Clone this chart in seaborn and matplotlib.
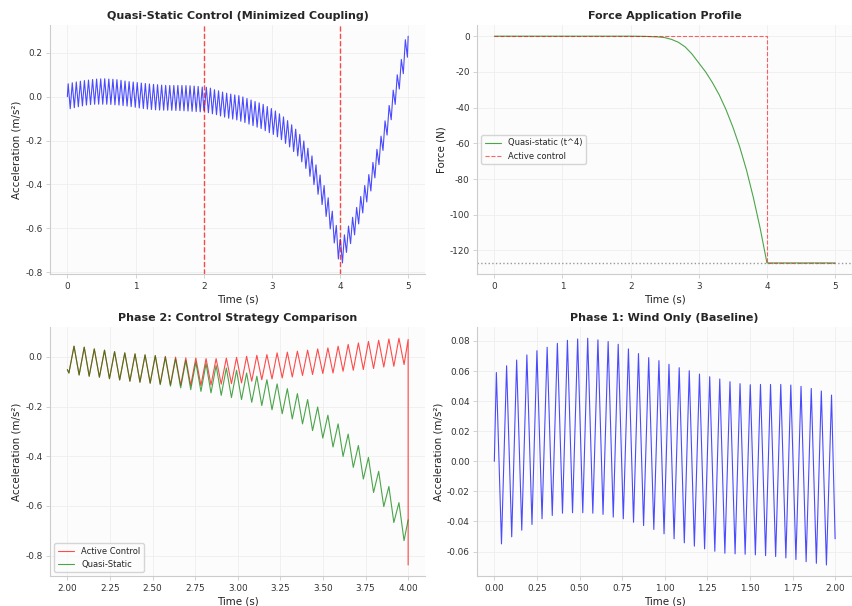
import numpy as np
import pandas as pd
import matplotlib
matplotlib.use("Agg")
import matplotlib.pyplot as plt
import seaborn as sns

# =========================
# DATA (peaks / troughs)
# =========================
# Phase 1: wind only, 0-2 s
wind_start = (0.0, 0.0)
wind_end = (2.0, -0.0515)
wind_peak_t = [0.012, 0.072, 0.131, 0.191, 0.250, 0.310, 0.370, 0.429, 0.489, 0.548,
               0.608, 0.668, 0.727, 0.787, 0.846, 0.906, 0.966, 1.025, 1.085, 1.144,
               1.204, 1.264, 1.323, 1.383, 1.442, 1.502, 1.562, 1.621, 1.681, 1.740,
               1.800, 1.860, 1.919, 1.979]
wind_peak_a = [0.059, 0.0635, 0.0673, 0.0707, 0.0735, 0.0758, 0.0784, 0.0804, 0.0813, 0.0818,
               0.0807, 0.0796, 0.0778, 0.0747, 0.0716, 0.0689, 0.0669, 0.0645, 0.0622, 0.0602,
               0.058, 0.0562, 0.0547, 0.0529, 0.0516, 0.0509, 0.0511, 0.0511, 0.0511, 0.0507,
               0.0498, 0.0484, 0.0467, 0.044]
wind_trough_t = [0.042, 0.102, 0.161, 0.221, 0.280, 0.340, 0.400, 0.459, 0.519, 0.578,
                 0.638, 0.698, 0.757, 0.817, 0.876, 0.936, 0.996, 1.055, 1.115, 1.174,
                 1.234, 1.294, 1.353, 1.413, 1.472, 1.532, 1.592, 1.651, 1.711, 1.770,
                 1.830, 1.890, 1.949]
wind_trough_a = [-0.0549, -0.0502, -0.0458, -0.042, -0.0382, -0.036, -0.0345, -0.0342, -0.0342, -0.0345,
                 -0.0353, -0.0371, -0.0382, -0.0405, -0.0427, -0.0453, -0.0482, -0.0515, -0.0542, -0.0564,
                 -0.0582, -0.0598, -0.0611, -0.0615, -0.0618, -0.0622, -0.0627, -0.0633, -0.0642, -0.0653,
                 -0.0667, -0.0678, -0.0689]

# Phase 2: 2-4 s, shared peak / trough times
p2_peak_t = [2.039, 2.099, 2.158, 2.218, 2.277, 2.337, 2.397, 2.456, 2.516, 2.575,
             2.635, 2.695, 2.754, 2.814, 2.873, 2.933, 2.993, 3.052, 3.112, 3.171,
             3.231, 3.291, 3.350, 3.410, 3.469, 3.529, 3.589, 3.648, 3.708, 3.767,
             3.827, 3.887, 3.946]
p2_trough_t = [2.009, 2.069, 2.128, 2.188, 2.247, 2.307, 2.367, 2.426, 2.486, 2.545,
               2.605, 2.665, 2.724, 2.784, 2.843, 2.903, 2.963, 3.022, 3.082, 3.141,
               3.201, 3.261, 3.320, 3.380, 3.439, 3.499, 3.559, 3.618, 3.678, 3.737,
               3.797, 3.857, 3.916, 3.976]

quasi_start = (2.0, -0.0515)
quasi_end = (4.0, -0.656)
quasi_peak_a = [0.043, 0.039, 0.032, 0.027, 0.021, 0.016, 0.012, 0.008, 0.005, -0.001,
                -0.008, -0.015, -0.022, -0.028, -0.035, -0.045, -0.054, -0.065, -0.078, -0.092,
                -0.109, -0.128, -0.148, -0.172, -0.202, -0.235, -0.27, -0.311, -0.357, -0.405,
                -0.461, -0.522, -0.587]
quasi_trough_a = [-0.065, -0.073, -0.078, -0.082, -0.088, -0.093, -0.098, -0.102, -0.106, -0.112,
                  -0.118, -0.125, -0.132, -0.139, -0.145, -0.155, -0.164, -0.172, -0.183, -0.196,
                  -0.213, -0.229, -0.25, -0.27, -0.297, -0.327, -0.363, -0.401, -0.445, -0.492,
                  -0.546, -0.603, -0.667, -0.74]

active_start = (2.0, -0.0515)
active_end_t = [4.0, 4.0]
active_end_a = [0.07, -0.838]
active_peak_a = [0.043, 0.039, 0.032, 0.027, 0.021, 0.016, 0.012, 0.008, 0.005, 0.002,
                 -0.001, -0.004, -0.005, -0.007, -0.007, -0.005, -0.002, 0.002, 0.006, 0.009,
                 0.016, 0.019, 0.023, 0.027, 0.032, 0.036, 0.043, 0.05, 0.056, 0.062,
                 0.067, 0.072, 0.075]
active_trough_a = [-0.065, -0.073, -0.078, -0.082, -0.088, -0.093, -0.098, -0.102, -0.106, -0.109,
                   -0.113, -0.115, -0.115, -0.115, -0.113, -0.11, -0.108, -0.105, -0.098, -0.092,
                   -0.089, -0.085, -0.081, -0.075, -0.071, -0.067, -0.065, -0.058, -0.054, -0.051,
                   -0.047, -0.041, -0.038, -0.031]

# Phase 3: after release, 4-5 s (quasi-static run only)
post_peak_t = [4.006, 4.065, 4.125, 4.185, 4.244, 4.304, 4.363, 4.423, 4.483, 4.542,
               4.602, 4.661, 4.721, 4.781, 4.840, 4.900, 4.959]
post_peak_a = [-0.65, -0.63, -0.59, -0.55, -0.505, -0.455, -0.405, -0.355, -0.30, -0.24,
               -0.18, -0.11, -0.04, 0.03, 0.10, 0.17, 0.26]
post_trough_t = [4.036, 4.095, 4.155, 4.214, 4.274, 4.334, 4.393, 4.453, 4.512, 4.572,
                 4.631, 4.691, 4.751, 4.810, 4.870, 4.929, 4.989]
post_trough_a = [-0.758, -0.71, -0.67, -0.63, -0.58, -0.53, -0.48, -0.43, -0.37, -0.31,
                 -0.245, -0.175, -0.105, -0.035, 0.035, 0.105, 0.18]
post_end = (5.0, 0.276)

# Force profile
force_t = [0.0, 1.0, 2.0, 2.2, 2.4, 2.5, 2.6, 2.7, 2.8, 2.9, 3.0, 3.1, 3.2, 3.3,
           3.4, 3.5, 3.6, 3.7, 3.8, 3.9, 4.0, 5.0]
quasi_force = [0.0, 0.0, 0.0, -0.1, -0.4, -0.8, -1.8, -3.4, -6.0, -10.0, -15.0, -20.0, -26.0, -32.9,
               -41.2, -50.9, -62.0, -75.0, -90.3, -107.5, -127.0, -127.0]
active_force_t = [0.0, 4.0, 4.0, 5.0]
active_force = [0.0, 0.0, -127.0, -127.0]
force_limit = -127.0


def zigzag(start, peak_t, peak_a, trough_t, trough_a, end_t, end_a):
    t = [start[0]] + list(peak_t) + list(trough_t)
    a = [start[1]] + list(peak_a) + list(trough_a)
    order = np.argsort(t, kind="stable")
    df = pd.DataFrame({"t": np.array(t)[order], "a": np.array(a)[order]})
    tail = pd.DataFrame({"t": end_t, "a": end_a})
    return pd.concat([df, tail], ignore_index=True)


wind = zigzag(wind_start, wind_peak_t, wind_peak_a, wind_trough_t, wind_trough_a,
              [wind_end[0]], [wind_end[1]])
quasi = zigzag(quasi_start, p2_peak_t, quasi_peak_a, p2_trough_t, quasi_trough_a,
               [quasi_end[0]], [quasi_end[1]])
active = zigzag(active_start, p2_peak_t, active_peak_a, p2_trough_t, active_trough_a,
                active_end_t, active_end_a)
post = zigzag(quasi_end, post_peak_t, post_peak_a, post_trough_t, post_trough_a,
              [post_end[0]], [post_end[1]])
full = pd.concat([wind, quasi.iloc[1:], post.iloc[1:]], ignore_index=True)

# =========================
# PLOT
# =========================
sns.set_theme(style="whitegrid", rc={
    "axes.facecolor": "#fcfcfc",
    "axes.edgecolor": "#cccccc",
    "axes.linewidth": 0.8,
    "axes.unicode_minus": False,
    "grid.color": "#eeeeee",
    "grid.linewidth": 0.6,
    "xtick.bottom": True,
    "ytick.left": True,
    "xtick.color": "#cccccc",
    "ytick.color": "#cccccc",
    "xtick.labelcolor": "#333333",
    "ytick.labelcolor": "#333333",
    "xtick.labelsize": 6.4,
    "ytick.labelsize": 6.4,
    "xtick.major.pad": 2.5,
    "ytick.major.pad": 2.5,
    "axes.labelsize": 7.4,
    "axes.labelpad": 2.5,
    "axes.labelcolor": "#222222",
    "axes.titlesize": 8,
    "axes.titleweight": "bold",
    "axes.titlepad": 4.5,
    "legend.fontsize": 6,
})
plt.rcParams["font.family"] = ["DejaVu Sans"]

fig, axes = plt.subplots(2, 2, figsize=(8.53, 6.06), dpi=100)
fig.subplots_adjust(left=0.059, right=0.999, top=0.959, bottom=0.049, wspace=0.139, hspace=0.211)

# top left: full quasi-static run
ax = axes[0, 0]
sns.lineplot(data=full, x="t", y="a", color="blue", alpha=0.7, lw=0.8, sort=False, estimator=None, ax=ax)
ax.axvline(2.0, color="red", ls="--", lw=1.0, alpha=0.7)
ax.axvline(4.0, color="red", ls="--", lw=1.0, alpha=0.7)
ax.set_title("Quasi-Static Control (Minimized Coupling)")
ax.set_xlabel("Time (s)")
ax.set_ylabel("Acceleration (m/s²)")

# top right: force profile
ax = axes[0, 1]
sns.lineplot(x=force_t, y=quasi_force, color="green", alpha=0.7, lw=0.8, sort=False, estimator=None,
             label="Quasi-static (t^4)", ax=ax)
sns.lineplot(x=active_force_t, y=active_force, color="red", alpha=0.6, lw=0.8, ls="--", sort=False,
             estimator=None, label="Active control", ax=ax)
ax.axhline(force_limit, color="gray", ls=":", lw=1.0, alpha=0.8)
ax.set_title("Force Application Profile")
ax.set_xlabel("Time (s)")
ax.set_ylabel("Force (N)")
ax.legend(loc="center left", frameon=True)

# bottom left: phase 2 comparison
ax = axes[1, 0]
sns.lineplot(data=active, x="t", y="a", color="red", alpha=0.7, lw=0.8, sort=False, estimator=None,
             label="Active Control", ax=ax)
sns.lineplot(data=quasi, x="t", y="a", color="green", alpha=0.7, lw=0.8, sort=False, estimator=None,
             label="Quasi-Static", ax=ax)
ax.set_title("Phase 2: Control Strategy Comparison")
ax.set_xlabel("Time (s)")
ax.set_ylabel("Acceleration (m/s²)")
ax.legend(loc="lower left", frameon=True)

# bottom right: wind only
ax = axes[1, 1]
sns.lineplot(data=wind, x="t", y="a", color="blue", alpha=0.7, lw=0.8, sort=False, estimator=None, ax=ax)
ax.set_title("Phase 1: Wind Only (Baseline)")
ax.set_xlabel("Time (s)")
ax.set_ylabel("Acceleration (m/s²)")

for ax in axes.flat:
    sns.despine(ax=ax)
    ax.tick_params(length=3, width=0.6)

fig.savefig("out.png", dpi=100)
